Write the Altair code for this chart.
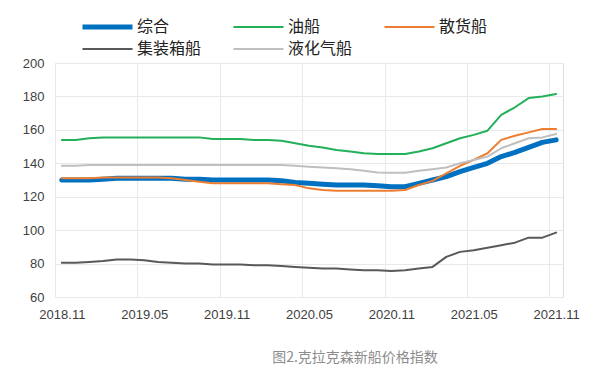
import altair as alt
import pandas as pd
import json

# ---- data ----
months = list(pd.period_range("2018-11", "2021-11", freq="M").strftime("%Y.%m"))
tick_labels = ["2018.11", "2019.05", "2019.11", "2020.05", "2020.11", "2021.05", "2021.11"]
y_ticks = [60, 80, 100, 120, 140, 160, 180, 200]

series_names = ["综合", "油船", "散货船", "集装箱船", "液化气船"]
series_colors = ["#0070C0", "#22B05A", "#ED7D31", "#595959", "#BFBFBF"]
series_widths = [5, 2, 2, 2, 2]

zonghe = [130, 130, 130, 130.5, 131, 131, 131, 131, 131, 130.5, 130.5, 130, 130, 130, 130, 130,
          129.5, 128.5, 128, 127.5, 127, 127, 127, 126.5, 126, 126, 128, 130, 132, 135, 137.5,
          140, 144, 146.5, 149.5, 152.5, 154]
youchuan = [154, 154, 155, 155.5, 155.5, 155.5, 155.5, 155.5, 155.5, 155.5, 155.5, 154.5, 154.5,
            154.5, 154, 154, 153.5, 152, 150.5, 149.5, 148, 147, 146, 145.5, 145.5, 145.5, 147,
            149, 152, 155, 157, 159.5, 169, 173.5, 179, 180, 181.5]
sanhuo = [131, 131, 131, 131.5, 131.5, 131.5, 131.5, 131.5, 131, 130, 129, 128, 128, 128, 128, 128,
          127.5, 127, 125, 124, 123.5, 123.5, 123.5, 123.5, 123.5, 124, 127, 129.5, 134, 138.5,
          142, 146, 154, 156.5, 158.5, 160.5, 160.5]
jizhuangxiang = [80.5, 80.5, 81, 81.5, 82.5, 82.5, 82, 81, 80.5, 80, 80, 79.5, 79.5, 79.5, 79, 79,
                 78.5, 78, 77.5, 77, 77, 76.5, 76, 76, 75.5, 76, 77, 78, 84, 87, 88, 89.5, 91,
                 92.5, 95.5, 95.5, 98.5]
yehuaqi = [138.5, 138.5, 139, 139, 139, 139, 139, 139, 139, 139, 139, 139, 139, 139, 139, 139, 139,
           138.5, 138, 137.5, 137, 136.5, 135.5, 134.5, 134.3, 134.3, 135.5, 136.5, 137.5, 140,
           142, 144, 149, 152, 155, 155.5, 157.5]

all_series = [zonghe, youchuan, sanhuo, jizhuangxiang, yehuaqi]

rows = []
for name, vals in zip(series_names, all_series):
    for i, (m, v) in enumerate(zip(months, vals)):
        rows.append({"series": name, "idx": i, "month": m, "value": v})
df = pd.DataFrame(rows)

tick_idx = [months.index(t) for t in tick_labels]
label_expr = json.dumps(months) + "[datum.value]"

W, H = 508, 234
half = W / len(months) / 2

x = alt.X(
    "idx:Q",
    scale=alt.Scale(domain=[-0.5, len(months) - 0.5], nice=False, zero=False),
    axis=alt.Axis(values=tick_idx, labelExpr=label_expr, title=None, grid=True,
                  gridColor="#E9E9E9", ticks=False, domain=False,
                  tickOffset=-half, labelOffset=half, labelPadding=11,
                  labelFlush=False, labelOverlap=False, labelBound=False,
                  labelFontSize=13, labelFont="Liberation Sans", labelColor="#404040"),
)
y = alt.Y(
    "value:Q",
    scale=alt.Scale(domain=[60, 200], nice=False, zero=False),
    axis=alt.Axis(values=y_ticks, title=None, grid=True, gridColor="#E9E9E9",
                  ticks=False, domain=False, labelPadding=11,
                  labelFontSize=13, labelFont="Liberation Sans", labelColor="#404040"),
)

legend = alt.Legend(title=None, orient="none", legendX=25, legendY=-44, columns=3,
                    direction="horizontal",
                    symbolType="stroke", symbolSize=2500, clipHeight=16,
                    rowPadding=6, columnPadding=29, labelFontSize=16,
                    labelFont="Noto Sans CJK SC", labelColor="#222222", labelOffset=2)

chart = alt.Chart(df).mark_line(strokeCap="round", strokeJoin="round").encode(
    x=x,
    y=y,
    color=alt.Color("series:N", scale=alt.Scale(domain=series_names, range=series_colors),
                    legend=legend),
    strokeWidth=alt.StrokeWidth("series:N",
                                scale=alt.Scale(type="ordinal", domain=series_names,
                                                range=series_widths),
                                legend=legend),
).properties(
    width=W,
    height=H,
    autosize=alt.AutoSizeParams(type="none"),
    padding={"left": 47, "top": 55, "right": 29, "bottom": 76},
    title=alt.TitleParams("图2.克拉克森新船价格指数", orient="bottom", anchor="middle",
                          dx=46, offset=30, fontSize=14, font="Noto Sans CJK SC",
                          color="#8C8C8C", fontWeight="normal"),
).configure_view(stroke="#D4D4D4", strokeWidth=1).configure(background="white")

chart.save("out.html", embed_options={"renderer": "svg", "actions": False})
